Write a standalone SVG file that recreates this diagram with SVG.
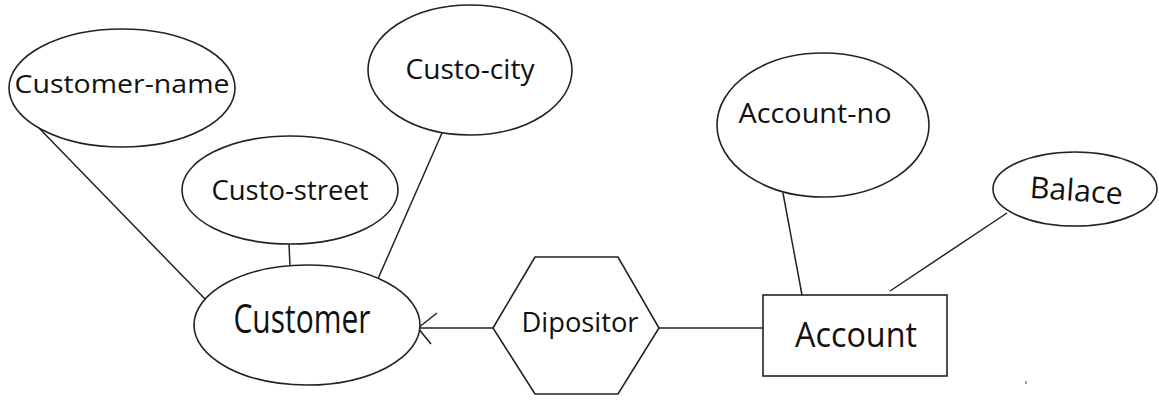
<svg xmlns="http://www.w3.org/2000/svg" width="1159" height="400" viewBox="0 0 1159 400">
<style>
.shape{fill:#fff;stroke:#222;stroke-width:1.6}
.conn{fill:none;stroke:#222;stroke-width:1.5}
.lbl{font-family:"Open Sans","Liberation Sans",sans-serif;fill:#111;text-anchor:middle}
</style>
<rect width="1159" height="400" fill="#fff"/>
<g id="connectors">
<line class="conn" x1="38" y1="127" x2="205" y2="299"/>
<line class="conn" x1="289" y1="244" x2="290" y2="266"/>
<line class="conn" x1="442" y1="133" x2="377" y2="281"/>
<line class="conn" x1="493" y1="328" x2="418" y2="328"/>
<polyline class="conn" points="437,313 418,328 431,344"/>
<line class="conn" x1="659" y1="328" x2="763" y2="328"/>
<line class="conn" x1="783" y1="193" x2="802" y2="295"/>
<line class="conn" x1="1007" y1="213" x2="890" y2="291"/>
</g>
<g id="customer-name">
<ellipse class="shape" cx="122" cy="88" rx="113" ry="59"/>
<text class="lbl" x="122" y="93" font-size="26" textLength="215" lengthAdjust="spacingAndGlyphs">Customer-name</text>
</g>
<g id="custo-city">
<ellipse class="shape" cx="470" cy="70" rx="102" ry="65"/>
<text class="lbl" x="470" y="79" font-size="28" textLength="129" lengthAdjust="spacingAndGlyphs">Custo-city</text>
</g>
<g id="custo-street">
<ellipse class="shape" cx="290" cy="190" rx="108" ry="54"/>
<text class="lbl" x="290" y="200" font-size="27" textLength="157" lengthAdjust="spacingAndGlyphs">Custo-street</text>
</g>
<g id="customer">
<ellipse class="shape" cx="307" cy="325" rx="113" ry="60"/>
<text class="lbl" x="302" y="333" font-size="40" textLength="137" lengthAdjust="spacingAndGlyphs">Customer</text>
</g>
<g id="dipositor">
<polygon class="shape" points="493,328 535,257 618,257 659,328 618,394 535,394"/>
<text class="lbl" x="580" y="332" font-size="27" textLength="117" lengthAdjust="spacingAndGlyphs">Dipositor</text>
</g>
<g id="account">
<rect class="shape" x="763" y="295" width="184" height="81"/>
<text class="lbl" x="856" y="347" font-size="35" textLength="122" lengthAdjust="spacingAndGlyphs">Account</text>
</g>
<g id="account-no">
<ellipse class="shape" cx="823" cy="125" rx="106" ry="72"/>
<text class="lbl" x="815" y="123" font-size="28" textLength="153" lengthAdjust="spacingAndGlyphs">Account-no</text>
</g>
<g id="balace">
<ellipse class="shape" cx="1075" cy="189" rx="82" ry="37"/>
<text class="lbl" x="1076" y="201" font-size="30" textLength="93" lengthAdjust="spacingAndGlyphs" transform="rotate(4 1076 195)">Balace</text>
</g>
<line x1="1026" y1="381" x2="1026" y2="384" stroke="#444" stroke-width="1"/>
</svg>
